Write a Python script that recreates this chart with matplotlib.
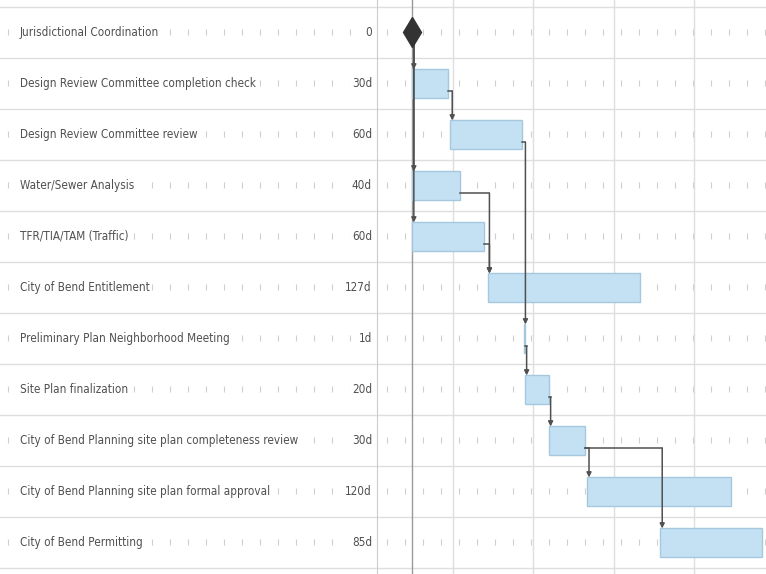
import matplotlib.pyplot as plt
import numpy as np

# Task list of the project schedule
tasks = [
    "Jurisdictional Coordination",
    "Design Review Committee completion check",
    "Design Review Committee review",
    "Water/Sewer Analysis",
    "TFR/TIA/TAM (Traffic)",
    "City of Bend Entitlement",
    "Preliminary Plan Neighborhood Meeting",
    "Site Plan finalization",
    "City of Bend Planning site plan completeness review",
    "City of Bend Planning site plan formal approval",
    "City of Bend Permitting",
]
durations = [0, 30, 60, 40, 60, 127, 1, 20, 30, 120, 85]   # days
starts = [0, 0, 32, 0, 0, 63, 93, 94, 114, 146, 207]       # days from project start
dur_labels = ["0", "30d", "60d", "40d", "60d", "127d", "1d", "20d", "30d", "120d", "85d"]

# finish-to-start links (predecessor, successor)
links = [(0, 1), (0, 3), (0, 4), (1, 2), (2, 6), (3, 5), (4, 5),
         (6, 7), (7, 8), (8, 9), (8, 10)]

W, H = 766, 574
fig = plt.figure(figsize=(W / 100, H / 100), dpi=100)
ax_lab = fig.add_axes([0, 0, 377 / W, 1])
ax = fig.add_axes([377 / W, 0, 1 - 377 / W, 1], sharey=ax_lab)

txt_col = "#505050"
grid_col = "#dedede"
tick_col = "#cfcfcf"
bar_fill = "#c4e1f4"
bar_edge = "#a6c8de"
link_col = "#505050"
bar_h = 0.55

n = len(tasks)
rows = np.arange(n)
ax_lab.set_ylim(10.618, -0.637)
ax_lab.set_xlim(0, 377)
ax.set_xlim(-29.2, 295)

# row separators and the little dash pattern along each row
for a, (x0, x1, step) in ((ax_lab, (0, 377, 18)), (ax, (-29.2, 295, 15))):
    for k in range(-1, n):
        a.axhline(k + 0.5, color=grid_col, lw=1, zorder=0)
    xs = np.arange(x0 + 8, x1, step)
    for r in rows:
        a.plot(xs, np.full_like(xs, r, dtype=float), ls="none", marker="|",
               ms=5, mew=0.8, color=tick_col, zorder=0)

# vertical timescale lines
for d in [34, 101, 168, 235]:
    ax.axvline(d, color=grid_col, lw=1, zorder=0)
ax.axvline(0, color="#9a9a9a", lw=1, zorder=1)

# labels and durations
lab_kw = dict(va="center", fontsize=8.4, color=txt_col, fontstretch="condensed",
              bbox=dict(facecolor="white", edgecolor="none", pad=1), zorder=3)
for r, name, dl in zip(rows, tasks, dur_labels):
    ax_lab.text(20, r, name, ha="left", **lab_kw)
    ax_lab.text(372, r, dl, ha="right", **lab_kw)

# bars and milestone
for r, s, d in zip(rows, starts, durations):
    if d == 0:
        ax.plot(s, r, marker="d", ms=15, color="#333333", zorder=5)
    else:
        ax.barh(r, d, left=s, height=bar_h, color=bar_fill, edgecolor=bar_edge,
                lw=1, zorder=2)

# dependency connectors
arrow = dict(arrowstyle="-|>", color=link_col, lw=1.1, mutation_scale=7,
             shrinkA=0, shrinkB=0)
for p, s in links:
    x_turn = starts[s] + 1.5
    y_top = s - bar_h / 2
    if durations[p] == 0:
        ax.annotate("", xy=(x_turn, y_top), xytext=(x_turn, p + 0.2),
                    arrowprops=arrow, zorder=4)
        continue
    x_end = starts[p] + durations[p]
    y0 = p + 0.15
    ax.plot([x_end, x_turn], [y0, y0], color=link_col, lw=1.1, zorder=4)
    ax.annotate("", xy=(x_turn, y_top), xytext=(x_turn, y0),
                arrowprops=arrow, zorder=4)

for a in (ax_lab, ax):
    a.set_xticks([])
    a.set_yticks([])
    for sp in a.spines.values():
        sp.set_visible(False)
ax.spines["left"].set_visible(True)
ax.spines["left"].set_color("#cccccc")

fig.savefig("out.png", dpi=100, facecolor="white")
